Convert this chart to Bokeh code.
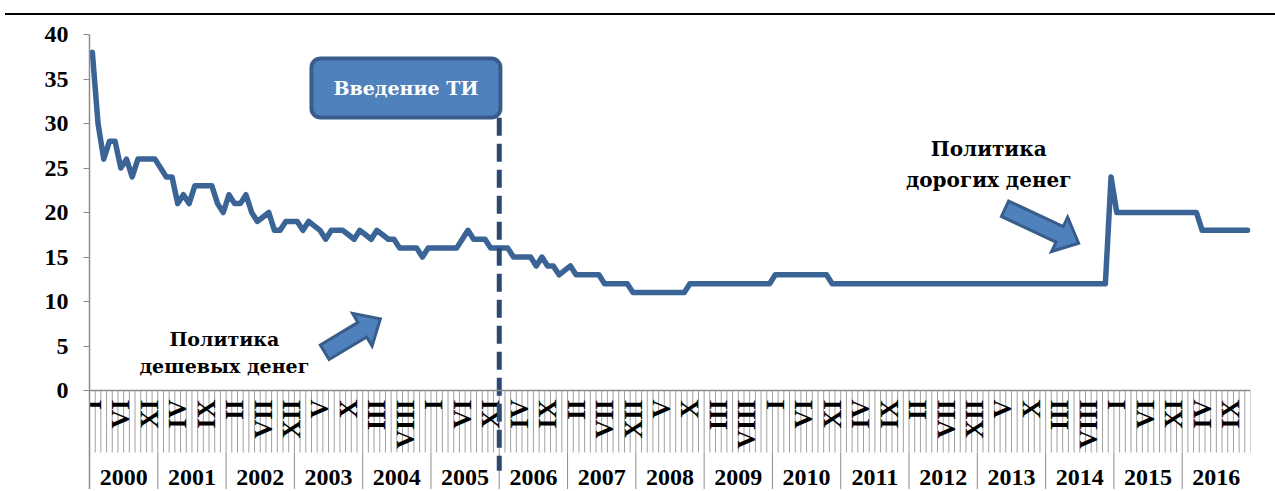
import math
from bokeh.plotting import figure
from bokeh.models import Range1d, FixedTicker, BoxAnnotation, Div, Span, Label
from bokeh.layouts import column
from bokeh.embed import file_html
from bokeh.resources import INLINE
from bokeh.core.properties import value

# ---------------- data ----------------
years = list(range(2000, 2017))
roman = ["I", "II", "III", "IV", "V", "VI", "VII", "VIII", "IX", "X", "XI", "XII"]

rate_2000 = [38, 30, 26, 28, 28, 25, 26, 24, 26, 26, 26, 26]
rate_2001 = [25, 24, 24, 21, 22, 21, 23, 23, 23, 23, 21, 20]
rate_2002 = [22, 21, 21, 22, 20, 19, 19.5, 20, 18, 18, 19, 19]
rate_2003 = [19, 18, 19, 18.5, 18, 17, 18, 18, 18, 17.5, 17, 18]
rate_2004 = [17.5, 17, 18, 17.5, 17, 17, 16, 16, 16, 16, 15, 16]
rate_2005 = [16, 16, 16, 16, 16, 17, 18, 17, 17, 17, 16, 16]
rate_2006 = [16, 16, 15, 15, 15, 15, 14, 15, 14, 14, 13, 13.5]
rate_2007 = [14, 13, 13, 13, 13, 13, 12, 12, 12, 12, 12, 11]
rate_2008 = [11, 11, 11, 11, 11, 11, 11, 11, 11, 12, 12, 12]
rate_2009 = [12, 12, 12, 12, 12, 12, 12, 12, 12, 12, 12, 12]
rate_2010 = [13, 13, 13, 13, 13, 13, 13, 13, 13, 13, 12, 12]
rate_2011 = [12, 12, 12, 12, 12, 12, 12, 12, 12, 12, 12, 12]
rate_2012 = [12, 12, 12, 12, 12, 12, 12, 12, 12, 12, 12, 12]
rate_2013 = [12, 12, 12, 12, 12, 12, 12, 12, 12, 12, 12, 12]
rate_2014 = [12, 12, 12, 12, 12, 12, 12, 12, 12, 12, 12, 24]
rate_2015 = [20, 20, 20, 20, 20, 20, 20, 20, 20, 20, 20, 20]
rate_2016 = [20, 20, 20, 18, 18, 18, 18, 18, 18, 18, 18, 18]

rate = (rate_2000 + rate_2001 + rate_2002 + rate_2003 + rate_2004 + rate_2005
        + rate_2006 + rate_2007 + rate_2008 + rate_2009 + rate_2010 + rate_2011
        + rate_2012 + rate_2013 + rate_2014 + rate_2015 + rate_2016)

y_ticks = [0, 5, 10, 15, 20, 25, 30, 35, 40]
label_step = 5
intro_year = 2006
box_text = "Введение ТИ"
cheap_text = ["Политика", "дешевых денег"]
dear_text = ["Политика", "дорогих денег"]

# ---------------- derived ----------------
n = len(rate)
idx = list(range(n))
month_bounds = [i - 0.5 for i in range(n + 1)]
year_bounds = [12 * k - 0.5 for k in range(len(years))]
year_centers = [12 * k + 5.5 for k in range(len(years))]
lab_x = idx[::label_step]
lab_t = [roman[i % 12] for i in lab_x]
intro_x = years.index(intro_year) * 12 - 0.5

FONT = "'Liberation Serif', 'Times New Roman', serif"
CYR_FONT = "DejaVu Serif"
GREY = "#8c8c8c"
LINE = "#3A6496"

X0, X1 = -0.5, n - 0.5
Y0, Y1 = -11.12, 41.35
FW, FH = 1161, 467
XPX = FW / (X1 - X0)
YPX = FH / (Y1 - Y0)

p = figure(width=1275, height=469, x_range=Range1d(X0, X1), y_range=Range1d(Y0, Y1),
           output_backend="svg", toolbar_location=None, title=None,
           x_axis_location=None, min_border_left=89, min_border_right=25,
           min_border_top=2, min_border_bottom=0)
p.outline_line_color = None
p.grid.visible = False
p.background_fill_color = "white"

ya = p.yaxis[0]
ya.ticker = FixedTicker(ticks=y_ticks)
ya.bounds = (Y0, 40)
ya.axis_line_color = GREY
ya.axis_line_width = 1.5
ya.major_tick_line_color = GREY
ya.major_tick_in = 0
ya.major_tick_out = 6
ya.minor_tick_line_color = None
ya.major_label_standoff = 15
ya.major_label_text_font = FONT
ya.major_label_text_font_style = "bold"
ya.major_label_text_font_size = "24px"
ya.major_label_text_color = "black"

# horizontal axis line
p.add_layout(Span(location=0, dimension="width", line_color=GREY, line_width=1.5))

# month ticks and year separators
p.segment(x0=month_bounds, y0=[0] * len(month_bounds), x1=month_bounds,
          y1=[-62 / YPX] * len(month_bounds), line_color="#a0a0a0", line_width=1)
p.segment(x0=year_bounds, y0=[-62 / YPX] * len(year_bounds), x1=year_bounds,
          y1=[Y0] * len(year_bounds), line_color=GREY, line_width=1)

# month labels (rotated)
p.text(x=lab_x, y=[-9 / YPX] * len(lab_x), text=lab_t, angle=math.pi / 2,
       text_align="right", text_baseline="middle", text_font=value(FONT),
       text_font_style="bold", text_font_size="26px", text_color="black")
# year labels
p.text(x=year_centers, y=[-87 / YPX] * len(years), text=[str(y) for y in years],
       text_align="center", text_baseline="middle", text_font=value(FONT),
       text_font_style="bold", text_font_size="24px", text_color="black")

# data line
p.line(idx, rate, line_width=5.5, line_color=LINE, line_join="round", line_cap="round")

# dashed intro line
p.segment(x0=[intro_x], y0=[36.5], x1=[intro_x], y1=[-9.0], line_color="#2A4A74",
          line_width=5, line_dash="18 8")

# box
p.add_layout(BoxAnnotation(left=38.5, right=71.7, top=37.3, bottom=30.67,
                           fill_color="#4F81BD", fill_alpha=1, line_color="#385D8A",
                           line_alpha=1, line_width=4, border_radius=9))
p.add_layout(Label(x=55.1, y=34.0, text=box_text, text_align="center",
                   text_baseline="middle", text_color="white", text_font=CYR_FONT,
                   text_font_style="bold", text_font_size="19px"))


def block_arrow(tail, tip, half_shaft, half_head, head_len):
    tx, ty = tail[0] * XPX, tail[1] * YPX
    hx, hy = tip[0] * XPX, tip[1] * YPX
    dx, dy = hx - tx, hy - ty
    L = math.hypot(dx, dy)
    ux, uy = dx / L, dy / L
    nx, ny = -uy, ux
    bx, by = hx - ux * head_len, hy - uy * head_len
    pts = [(tx + nx * half_shaft, ty + ny * half_shaft),
           (bx + nx * half_shaft, by + ny * half_shaft),
           (bx + nx * half_head, by + ny * half_head),
           (hx, hy),
           (bx - nx * half_head, by - ny * half_head),
           (bx - nx * half_shaft, by - ny * half_shaft),
           (tx - nx * half_shaft, ty - ny * half_shaft)]
    return [q[0] / XPX for q in pts], [q[1] / YPX for q in pts]


for tail, tip in [((40.83, 4.30), (50.6, 8.05)), ((160.37, 20.42), (173.3, 16.55))]:
    ax, ay = block_arrow(tail, tip, 8.5, 19, 21)
    p.patch(ax, ay, fill_color="#4F81BD", line_color="#385D8A", line_width=3,
            line_join="miter")

# policy labels
for (cx, y1, y2, fs), lines in [((23.2, 5.84, 2.81, "19px"), cheap_text),
                                ((157.5, 27.1, 23.6, "20px"), dear_text)]:
    for yy, t in zip((y1, y2), lines):
        p.add_layout(Label(x=cx, y=yy, text=t, text_align="center",
                           text_baseline="alphabetic", text_color="black",
                           text_font=CYR_FONT, text_font_style="bold",
                           text_font_size=fs))

top_rule = Div(text="", width=1275, height=10,
               styles={"border-bottom": "2px solid black", "box-sizing": "border-box"})

layout = column(top_rule, p, spacing=0)
open("out.html", "w").write(file_html(layout, INLINE))
